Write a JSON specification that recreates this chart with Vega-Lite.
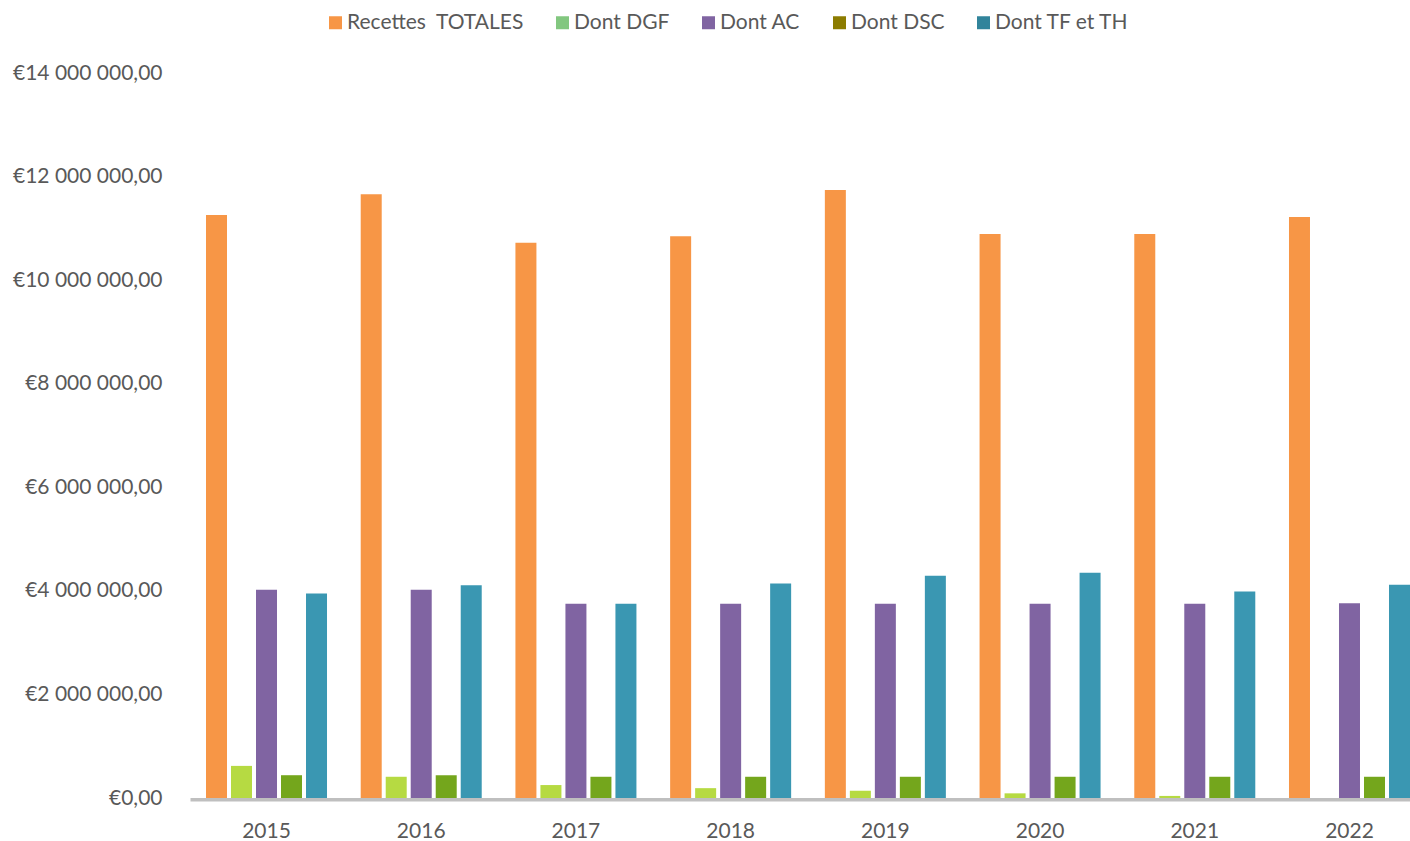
{
  "$schema": "https://vega.github.io/schema/vega-lite/v6.json",
  "autosize": {"type": "none"},
  "padding": {"left": 190, "top": 73, "right": 0, "bottom": 43},
  "width": 1220,
  "height": 725,
  "background": "white",
  "config": {
    "view": {"stroke": null},
    "font": "Lato",
    "locale": {
      "number": {"decimal": ",", "thousands": " ", "grouping": [3], "currency": ["€", ""]}
    }
  },
  "data": {
    "values": [
      {"annee": "2015", "serie": "Recettes \u00a0TOTALES", "montant": 11260000},
      {"annee": "2015", "serie": "Dont DGF", "montant": 620000},
      {"annee": "2015", "serie": "Dont AC", "montant": 4020000},
      {"annee": "2015", "serie": "Dont DSC", "montant": 440000},
      {"annee": "2015", "serie": "Dont TF et TH", "montant": 3950000},
      {"annee": "2016", "serie": "Recettes \u00a0TOTALES", "montant": 11660000},
      {"annee": "2016", "serie": "Dont DGF", "montant": 410000},
      {"annee": "2016", "serie": "Dont AC", "montant": 4020000},
      {"annee": "2016", "serie": "Dont DSC", "montant": 440000},
      {"annee": "2016", "serie": "Dont TF et TH", "montant": 4110000},
      {"annee": "2017", "serie": "Recettes \u00a0TOTALES", "montant": 10720000},
      {"annee": "2017", "serie": "Dont DGF", "montant": 250000},
      {"annee": "2017", "serie": "Dont AC", "montant": 3750000},
      {"annee": "2017", "serie": "Dont DSC", "montant": 410000},
      {"annee": "2017", "serie": "Dont TF et TH", "montant": 3750000},
      {"annee": "2018", "serie": "Recettes \u00a0TOTALES", "montant": 10850000},
      {"annee": "2018", "serie": "Dont DGF", "montant": 190000},
      {"annee": "2018", "serie": "Dont AC", "montant": 3750000},
      {"annee": "2018", "serie": "Dont DSC", "montant": 410000},
      {"annee": "2018", "serie": "Dont TF et TH", "montant": 4140000},
      {"annee": "2019", "serie": "Recettes \u00a0TOTALES", "montant": 11740000},
      {"annee": "2019", "serie": "Dont DGF", "montant": 140000},
      {"annee": "2019", "serie": "Dont AC", "montant": 3750000},
      {"annee": "2019", "serie": "Dont DSC", "montant": 410000},
      {"annee": "2019", "serie": "Dont TF et TH", "montant": 4290000},
      {"annee": "2020", "serie": "Recettes \u00a0TOTALES", "montant": 10890000},
      {"annee": "2020", "serie": "Dont DGF", "montant": 90000},
      {"annee": "2020", "serie": "Dont AC", "montant": 3750000},
      {"annee": "2020", "serie": "Dont DSC", "montant": 410000},
      {"annee": "2020", "serie": "Dont TF et TH", "montant": 4350000},
      {"annee": "2021", "serie": "Recettes \u00a0TOTALES", "montant": 10890000},
      {"annee": "2021", "serie": "Dont DGF", "montant": 40000},
      {"annee": "2021", "serie": "Dont AC", "montant": 3750000},
      {"annee": "2021", "serie": "Dont DSC", "montant": 410000},
      {"annee": "2021", "serie": "Dont TF et TH", "montant": 3990000},
      {"annee": "2022", "serie": "Recettes \u00a0TOTALES", "montant": 11220000},
      {"annee": "2022", "serie": "Dont DGF", "montant": 0},
      {"annee": "2022", "serie": "Dont AC", "montant": 3760000},
      {"annee": "2022", "serie": "Dont DSC", "montant": 410000},
      {"annee": "2022", "serie": "Dont TF et TH", "montant": 4120000}
    ]
  },
  "encoding": {
    "x": {
      "field": "annee",
      "type": "nominal",
      "scale": {"range": [0, 1236], "paddingInner": 0.192, "paddingOuter": 0.0905},
      "axis": {
        "title": null,
        "labelAngle": 0,
        "ticks": false,
        "domainColor": "#bfbfbf",
        "domainWidth": 3.5,
        "offset": 1.2,
        "labelFontSize": 21,
        "labelColor": "#595959",
        "labelPadding": 21
      }
    },
    "y": {
      "field": "montant",
      "type": "quantitative",
      "scale": {"domain": [0, 14000000], "nice": false},
      "axis": {
        "title": null,
        "values": [0, 2000000, 4000000, 6000000, 8000000, 10000000, 12000000, 14000000],
        "format": "$,.2f",
        "grid": false,
        "domain": false,
        "ticks": false,
        "labelFontSize": 21,
        "labelColor": "#595959",
        "labelPadding": 28
      }
    }
  },
  "layer": [
    {
      "mark": {"type": "bar"},
      "encoding": {
        "xOffset": {
          "field": "serie",
          "type": "nominal",
          "sort": ["Recettes \u00a0TOTALES", "Dont DGF", "Dont AC", "Dont DSC", "Dont TF et TH"],
          "scale": {"paddingInner": 0.16, "paddingOuter": 0.08}
        },
        "fill": {
          "field": "serie",
          "type": "nominal",
          "scale": {
            "domain": ["Recettes \u00a0TOTALES", "Dont DGF", "Dont AC", "Dont DSC", "Dont TF et TH"],
            "range": ["#f79646", "#b6da42", "#8064a2", "#74a61c", "#3a97b2"]
          },
          "legend": null
        }
      }
    },
    {
      "transform": [{"filter": "false"}],
      "mark": {"type": "square", "opacity": 1},
      "encoding": {
        "color": {
          "field": "serie",
          "type": "nominal",
          "scale": {
            "domain": ["Recettes \u00a0TOTALES", "Dont DGF", "Dont AC", "Dont DSC", "Dont TF et TH"],
            "range": ["#f79646", "#82c77f", "#8064a2", "#8c7c00", "#31849b"]
          },
          "legend": {
            "title": null,
            "orient": "none",
            "direction": "horizontal",
            "legendX": 135,
            "legendY": -61,
            "padding": 0,
            "symbolType": "square",
            "symbolSize": 169,
            "symbolStrokeWidth": 0,
            "labelFontSize": 21,
            "labelLimit": 0,
            "labelColor": "#595959",
            "labelOffset": 1,
            "columnPadding": 28
          }
        }
      }
    }
  ],
  "resolve": {"scale": {"fill": "independent", "color": "independent"}}
}
